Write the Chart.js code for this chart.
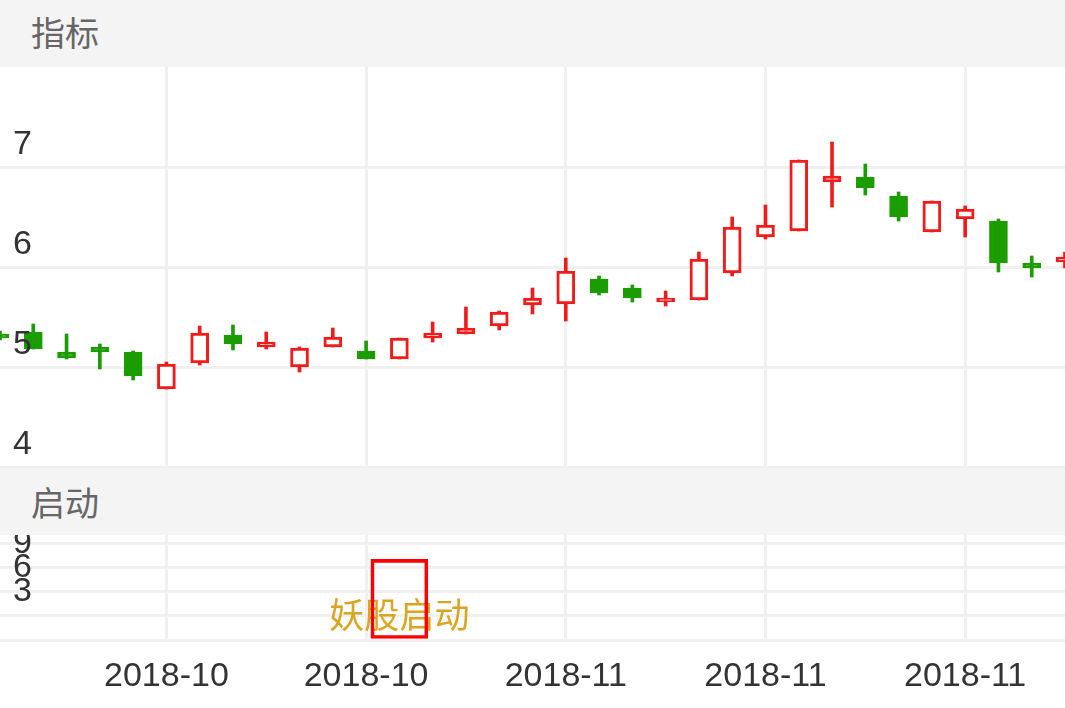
<!DOCTYPE html>
<html>
<head>
<meta charset="utf-8">
<script src="https://cdn.jsdelivr.net/npm/chart.js@4.4.1/dist/chart.umd.min.js"></script>
<style>
  body { margin: 0; width: 1065px; height: 708px; background: #fff; overflow: hidden; position: relative; }
  .band { position: absolute; left: 0; width: 1065px; background: #f4f4f4; color: #666; font-size: 34px; font-family: "Noto Sans CJK SC", sans-serif; padding-left: 31px; box-sizing: border-box; z-index: 2; }
  #head1 { top: 0; height: 67px; line-height: 63px; }
  #head2 { top: 468px; height: 67px; line-height: 68px; }
  #c1 { position: absolute; left: 0; top: 67px; }
  #c2 { position: absolute; left: 0; top: 480px; }
</style>
</head>
<body>
<div class="band" id="head1">指标</div>
<canvas id="c1" width="1065" height="401"></canvas>
<div class="band" id="head2">启动</div>
<canvas id="c2" width="1065" height="228"></canvas>
<script>
const dates = [
  "2018-10-09", "2018-10-10", "2018-10-11", "2018-10-12", "2018-10-15", "2018-10-16",
  "2018-10-17", "2018-10-18", "2018-10-19", "2018-10-22", "2018-10-23", "2018-10-24",
  "2018-10-25", "2018-10-26", "2018-10-29", "2018-10-30", "2018-10-31", "2018-11-01",
  "2018-11-02", "2018-11-05", "2018-11-06", "2018-11-07", "2018-11-08", "2018-11-09",
  "2018-11-12", "2018-11-13", "2018-11-14", "2018-11-15", "2018-11-16", "2018-11-19",
  "2018-11-20", "2018-11-21", "2018-11-22"
];
const open  = [5.33, 5.35, 5.15, 5.20, 5.15, 4.78, 5.04, 5.32, 5.20, 5.00, 5.20, 5.16, 5.08, 5.29, 5.33, 5.41, 5.62,
               5.63, 5.88, 5.79, 5.65, 5.67, 5.94, 6.30, 6.36, 6.85, 6.90, 6.71, 6.35, 6.48, 6.46, 6.04, 6.05];
const high  = [5.36, 5.43, 5.33, 5.23, 5.16, 5.05, 5.41, 5.42, 5.35, 5.20, 5.39, 5.26, 5.29, 5.45, 5.60, 5.56, 5.79,
               6.09, 5.91, 5.82, 5.76, 6.15, 6.50, 6.62, 7.07, 7.25, 7.03, 6.75, 6.66, 6.61, 6.48, 6.11, 6.15];
const low   = [5.27, 5.18, 5.08, 4.98, 4.87, 4.78, 5.02, 5.17, 5.18, 4.95, 5.20, 5.08, 5.08, 5.25, 5.33, 5.37, 5.53,
               5.46, 5.72, 5.65, 5.61, 5.67, 5.91, 6.28, 6.36, 6.60, 6.72, 6.46, 6.35, 6.30, 5.95, 5.90, 5.99];
const close = [5.29, 5.18, 5.09, 5.15, 4.91, 5.03, 5.34, 5.23, 5.25, 5.19, 5.30, 5.08, 5.29, 5.34, 5.39, 5.55, 5.69,
               5.96, 5.74, 5.69, 5.69, 6.08, 6.40, 6.42, 7.07, 6.91, 6.79, 6.50, 6.66, 6.58, 6.04, 5.99, 6.10];

const xTickDates = ["2018-10-16", "2018-10-24", "2018-11-01", "2018-11-09", "2018-11-19"];

const signalDates = ["2018-10-25"];
const signalValues = [10];
const signalTexts = ["妖股启动"];

const RED = "#f01b1b";
const GREEN = "#1b9c00";
const GRID = "#f0f0f0";
const numFont = { family: "'Liberation Sans', Arial, sans-serif", size: 34 };

const up = open.map((o, i) => close[i] >= o);
const xTickIdx = xTickDates.map(d => dates.indexOf(d));

function xAxis(showLabels) {
    return {
        type: "category",
        offset: false,
        afterBuildTicks: s => { s.ticks = xTickIdx.map(v => ({ value: v })); },
        ticks: {
            display: showLabels, autoSkip: false, maxRotation: 0, padding: 16,
            color: "#333", font: numFont,
            callback: v => dates[v].slice(0, 7)
        },
        grid: { color: GRID, lineWidth: 3, drawTicks: false, offset: false },
        border: { display: false },
        afterFit: s => { s.height = showLabels ? 68 : 0; s.paddingLeft = 0; s.paddingRight = 0; }
    };
}

function yAxis(min, max, step, offset, hide) {
    return {
        min: min, max: max,
        ticks: {
            stepSize: step, mirror: true, padding: 13, labelOffset: offset, z: 1, autoSkip: false,
            color: "#333", font: numFont,
            callback: v => hide.includes(v) ? "" : v
        },
        grid: { color: ctx => ctx.tick && ctx.tick.value === max ? "rgba(0,0,0,0)" : GRID, lineWidth: 3, drawTicks: false },
        border: { display: false },
        afterFit: s => { s.width = 0; s.paddingTop = 0; s.paddingBottom = 0; }
    };
}

new Chart(document.getElementById("c1"), {
    type: "bar",
    data: {
        labels: dates,
        datasets: [
            {
                data: dates.map((d, i) => [open[i], close[i]]),
                backgroundColor: up.map(u => u ? "#fff" : GREEN),
                borderColor: up.map(u => u ? RED : GREEN),
                borderWidth: 3,
                borderSkipped: false,
                barThickness: 18,
                minBarLength: 3,
                grouped: false
            },
            {
                data: dates.map((d, i) => [low[i], high[i]]),
                backgroundColor: up.map(u => u ? RED : GREEN),
                borderWidth: 0,
                barThickness: 3,
                grouped: false
            }
        ]
    },
    options: {
        responsive: false,
        animation: false,
        layout: { padding: { bottom: 1 } },
        plugins: { legend: { display: false }, tooltip: { enabled: false } },
        scales: {
            x: xAxis(false),
            y: yAxis(4, 8, 1, -22, [8])
        }
    }
});

const signalText = {
    id: "signalText",
    beforeDatasetsDraw(chart) {
        const ctx = chart.ctx;
        const meta = chart.getDatasetMeta(0);
        ctx.save();
        ctx.fillStyle = "#DAA520";
        ctx.font = "35px 'Noto Sans CJK SC', sans-serif";
        ctx.textAlign = "center";
        ctx.textBaseline = "middle";
        signalDates.forEach((d, k) => {
            const bar = meta.data[dates.indexOf(d)];
            ctx.fillText(signalTexts[k], bar.x, bar.base - 24);
        });
        ctx.restore();
    }
};

new Chart(document.getElementById("c2"), {
    type: "bar",
    data: {
        labels: dates,
        datasets: [{
            data: dates.map(d => {
                const k = signalDates.indexOf(d);
                return k < 0 ? null : [0, signalValues[k]];
            }),
            backgroundColor: "rgba(0,0,0,0)",
            borderColor: "#ff0000",
            borderWidth: 3,
            borderSkipped: false,
            barThickness: 57
        }]
    },
    options: {
        responsive: false,
        animation: false,
        layout: { padding: { top: 39 } },
        plugins: { legend: { display: false }, tooltip: { enabled: false } },
        scales: {
            x: xAxis(true),
            y: yAxis(0, 15, 3, -24, [0])
        }
    },
    plugins: [signalText]
});
</script>
</body>
</html>
